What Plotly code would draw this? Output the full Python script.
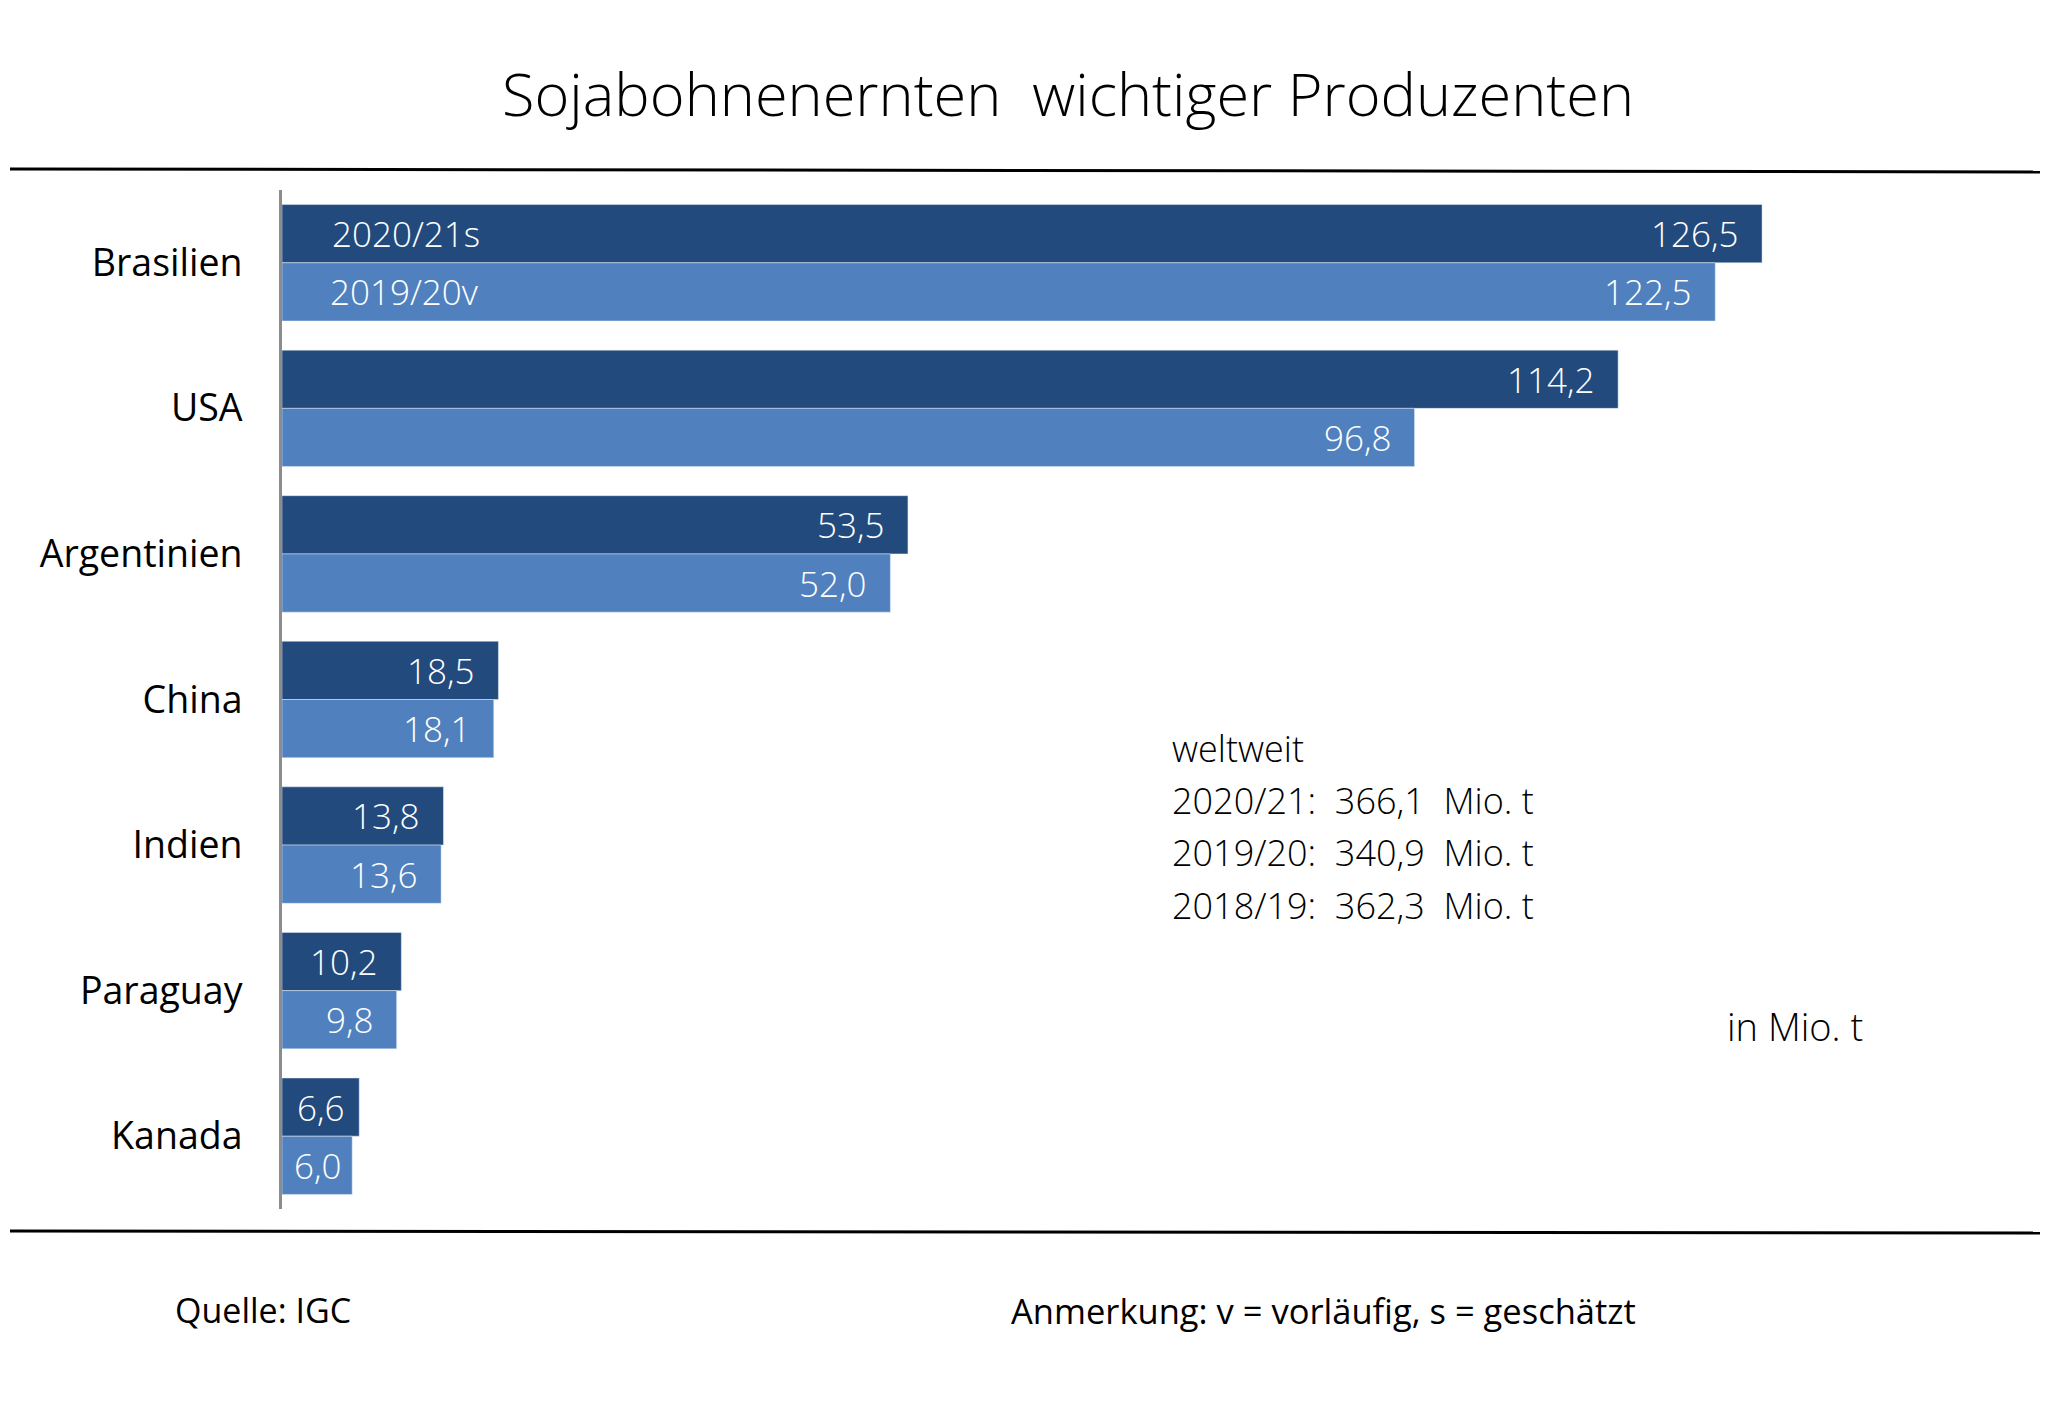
import plotly.graph_objects as go

laender = ["Brasilien", "USA", "Argentinien", "China", "Indien", "Paraguay", "Kanada"]
ernte_2021 = [126.5, 114.2, 53.5, 18.5, 13.8, 10.2, 6.6]
ernte_2020 = [122.5, 96.8, 52.0, 18.1, 13.6, 9.8, 6.0]
serien = ["2020/21s", "2019/20v"]
weltweit_jahre = ["2020/21:", "2019/20:", "2018/19:"]
weltweit_werte = [366.1, 340.9, 362.3]

dunkel = "#234A7D"
hell = "#5081BE"

# the page body has an 8px margin, so the figure is 8px smaller and
# all positions below are page pixels
OFF = 8
W, H = 2048 - OFF, 1403 - OFF
L, R, T, B = 282 - OFF, 11, 190 - OFF, 194

# page pixel -> paper
def px(x):
    return (x - OFF - L) / (W - L - R)

def py(y):
    return (H - B - (y - OFF)) / (H - T - B)

def de(v):
    return f"{v:.1f}".replace(".", ",")

leicht = dict(family="Open Sans", size=36, color="black", weight=300)
weiss = dict(family="Open Sans", size=35, color="white", weight=300)

fig = go.Figure()
fig.add_trace(go.Bar(y=laender, x=ernte_2021, orientation="h", marker_color=dunkel,
                     name=serien[0], hoverinfo="x+y"))
fig.add_trace(go.Bar(y=laender, x=ernte_2020, orientation="h", marker_color=hell,
                     name=serien[1], hoverinfo="x+y"))

anns = []
for i in range(len(laender)):
    for werte, off in ((ernte_2021, -0.2), (ernte_2020, 0.2)):
        v = werte[i]
        if v < 8:
            anns.append(dict(x=v / 2, y=i + off, text=de(v), showarrow=False,
                             xanchor="center", font=weiss))
        else:
            anns.append(dict(x=v, y=i + off, text=de(v), showarrow=False,
                             xanchor="right", xshift=-22, font=weiss))

# Serienbeschriftung im ersten Balkenpaar
anns.append(dict(x=0, y=-0.2, text=serien[0], showarrow=False, xanchor="left",
                 xshift=48, font=weiss))
anns.append(dict(x=0, y=0.2, text=serien[1], showarrow=False, xanchor="left",
                 xshift=46, font=weiss))

anns.append(dict(x=px(1068), y=py(92), xref="paper", yref="paper",
                 text="Sojabohnenernten\u00a0 wichtiger Produzenten", showarrow=False,
                 xanchor="center", yanchor="middle",
                 font=dict(family="Open Sans", size=59.5, color="black", weight=300)))

anns.append(dict(x=px(1170), y=py(748), xref="paper", yref="paper", text="weltweit",
                 showarrow=False, xanchor="left", yanchor="middle", font=leicht))
for k, (jahr, wert) in enumerate(zip(weltweit_jahre, weltweit_werte)):
    anns.append(dict(x=px(1170), y=py(800 + 52.5 * k), xref="paper", yref="paper",
                     text=f"{jahr}\u00a0 {de(wert)}\u00a0 Mio.\u00a0t", showarrow=False,
                     xanchor="left", yanchor="middle", font=leicht))

anns.append(dict(x=px(1725), y=py(1026), xref="paper", yref="paper", text="in Mio. t",
                 showarrow=False, xanchor="left", yanchor="middle",
                 font=dict(leicht, size=38)))

fuss = dict(family="Open Sans", size=34.5, color="black")
anns.append(dict(x=px(173), y=py(1310), xref="paper", yref="paper", text="Quelle: IGC",
                 showarrow=False, xanchor="left", yanchor="middle", font=dict(fuss, size=34)))
anns.append(dict(x=px(1009), y=py(1310), xref="paper", yref="paper",
                 text="Anmerkung: v = vorläufig, s = geschätzt",
                 showarrow=False, xanchor="left", yanchor="middle", font=fuss))

shapes = [
    dict(type="line", xref="paper", yref="paper", x0=px(10), x1=px(2044),
         y0=py(169), y1=py(172), line=dict(color="black", width=3)),
    dict(type="line", xref="paper", yref="paper", x0=px(10), x1=px(2044),
         y0=py(1231), y1=py(1233), line=dict(color="black", width=3)),
]

fig.update_layout(
    width=W, height=H,
    margin=dict(l=L, r=R, t=T, b=B),
    paper_bgcolor="white", plot_bgcolor="white",
    barmode="group", bargap=0.2, bargroupgap=0,
    showlegend=False,
    annotations=anns, shapes=shapes,
    xaxis=dict(range=[0, 150], visible=False, fixedrange=True),
    yaxis=dict(autorange="reversed", showline=True, linecolor="#8c8c8c", linewidth=3,
               ticks="", showgrid=False, ticklabelstandoff=29,
               tickfont=dict(family="Open Sans", size=37.5, color="black")),
)

fig.write_html("out.html")
